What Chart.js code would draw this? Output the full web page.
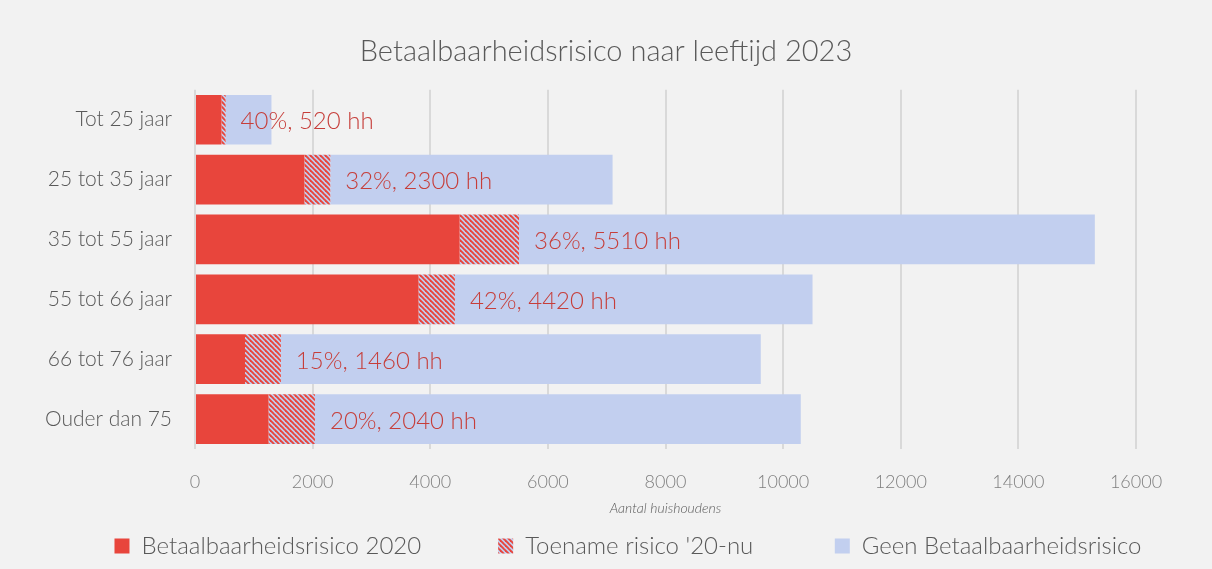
<!DOCTYPE html>
<html>
<head>
<meta charset="utf-8">
<script src="https://cdn.jsdelivr.net/npm/chart.js@4.4.1/dist/chart.umd.min.js"></script>
<style>
  html, body { margin: 0; padding: 0; background: #F2F2F2; }
  #wrap { width: 1212px; height: 569px; position: relative; }
</style>
</head>
<body>
<div id="wrap"><canvas id="c" width="1212" height="569"></canvas></div>
<script>
const categories = ['Tot 25 jaar', '25 tot 35 jaar', '35 tot 55 jaar', '55 tot 66 jaar', '66 tot 76 jaar', 'Ouder dan 75'];
const risk2020 = [450, 1860, 4500, 3800, 850, 1250];
const riskIncrease = [70, 440, 1010, 620, 610, 790];
const noRisk = [780, 4800, 9790, 6080, 8160, 8260];
const riskPct = [40, 32, 36, 42, 15, 20];
const xTicks = [0, 2000, 4000, 6000, 8000, 10000, 12000, 14000, 16000];
const seriesNames = ['Betaalbaarheidsrisico 2020', "Toename risico '20-nu", 'Geen Betaalbaarheidsrisico'];

const FONT = 'Lato, "Open Sans", sans-serif';
const RED = '#E8453C';
const BLUE = '#C2CFEF';

function makeHatch() {
  const s = 5;
  const c = document.createElement('canvas');
  c.width = s; c.height = s;
  const g = c.getContext('2d');
  g.fillStyle = BLUE;
  g.fillRect(0, 0, s, s);
  g.strokeStyle = RED;
  g.lineWidth = 1.9;
  for (const k of [-s, 0, s]) {
    g.beginPath();
    g.moveTo(k - 1, -1);
    g.lineTo(k + s + 1, s + 1);
    g.stroke();
  }
  return g.createPattern(c, 'repeat');
}
const hatch = makeHatch();

const labelPlugin = {
  id: 'riskLabels',
  afterDatasetsDraw(chart) {
    const ctx = chart.ctx;
    const xs = chart.scales.x, ys = chart.scales.y;
    ctx.save();
    ctx.font = '300 24px ' + FONT;
    ctx.fillStyle = '#C63E3A';
    ctx.textAlign = 'left';
    ctx.textBaseline = 'middle';
    categories.forEach((cat, i) => {
      const total = risk2020[i] + riskIncrease[i];
      const x = xs.getPixelForValue(total) + 15;
      const y = ys.getPixelForValue(i) + 2;
      ctx.fillText(riskPct[i] + '%, ' + total + ' hh', x, y);
    });
    ctx.restore();
  }
};

const legendShift = {
  id: 'legendShift',
  afterLayout(chart) {
    if (chart.legend && chart.legend.lineWidths) {
      chart.legend.lineWidths[0] -= 44;
    }
  }
};

const legendGaps = ['\u2003\u2003\u2003\u2009\u200A\u200A', '\u2003\u2003\u2003\u2009\u2009\u2009\u200A', ''];

new Chart(document.getElementById('c'), {
  type: 'bar',
  data: {
    labels: categories,
    datasets: [
      { label: seriesNames[0], data: risk2020, backgroundColor: RED },
      { label: seriesNames[1], data: riskIncrease, backgroundColor: hatch },
      { label: seriesNames[2], data: noRisk, backgroundColor: BLUE }
    ]
  },
  options: {
    indexAxis: 'y',
    responsive: false,
    animation: false,
    devicePixelRatio: 1,
    categoryPercentage: 1,
    barPercentage: 0.83,
    layout: { padding: { top: 0, left: 0, right: 0, bottom: 1 } },
    scales: {
      x: {
        stacked: true,
        min: 0,
        max: 16000,
        afterBuildTicks(scale) { scale.ticks = xTicks.map(v => ({ value: v })); },
        afterFit(scale) { scale.paddingRight = 76; scale.height = 68; },
        grid: { color: '#D9D9D9', lineWidth: 2, drawTicks: false },
        border: { display: false },
        ticks: {
          color: '#7F7F7F',
          font: { family: FONT, size: 18, weight: 300 },
          padding: 22,
          maxRotation: 0,
          callback: (v) => String(v)
        },
        title: {
          display: true,
          text: 'Aantal huishoudens',
          color: '#595959',
          font: { family: FONT, size: 14, style: 'italic', weight: 300 },
          padding: { top: 4, bottom: 0 }
        }
      },
      y: {
        stacked: true,
        afterFit(scale) { scale.width = 195; },
        grid: { display: false, drawTicks: false },
        border: { display: false },
        ticks: { color: '#595959', font: { family: FONT, size: 21, weight: 300 }, padding: 23 }
      }
    },
    plugins: {
      title: {
        display: true,
        text: 'Betaalbaarheidsrisico naar leeftijd 2023',
        color: '#595959',
        font: { family: FONT, size: 29, weight: 300 },
        padding: { top: 34, bottom: 21 }
      },
      legend: {
        position: 'bottom',
        labels: {
          boxWidth: 15,
          boxHeight: 15,
          padding: 17,
          color: '#595959',
          font: { family: FONT, size: 24, weight: 300 },
          generateLabels(chart) {
            const base = Chart.defaults.plugins.legend.labels.generateLabels(chart);
            return base.map((l, i) => Object.assign(l, {
              text: l.text + legendGaps[i],
              lineWidth: 0
            }));
          }
        }
      },
      tooltip: { enabled: false }
    }
  },
  plugins: [labelPlugin, legendShift]
});
</script>
</body>
</html>
